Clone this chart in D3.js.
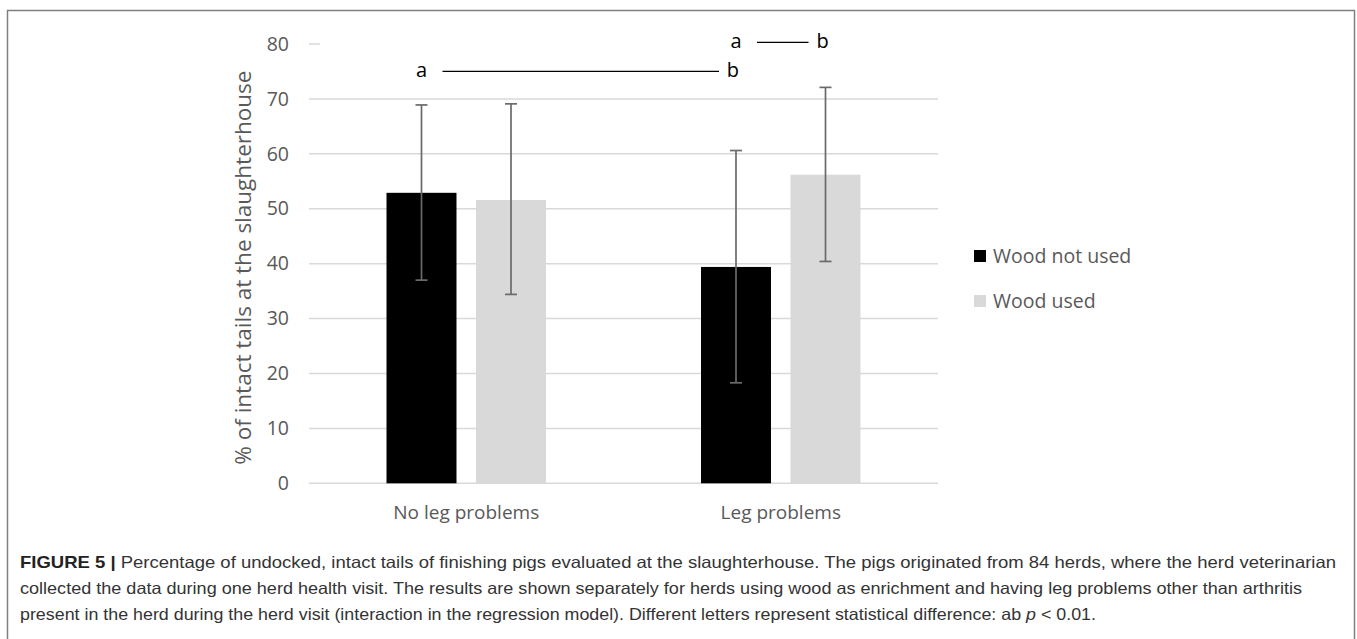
<!DOCTYPE html>
<html>
<head>
<meta charset="utf-8">
<script src="https://cdn.jsdelivr.net/npm/d3@7"></script>
<style>
  html, body { margin: 0; padding: 0; background: #fff; }
  svg { display: block; }
</style>
</head>
<body>
<svg id="chart" width="1357" height="639"></svg>
<script>
// ---- data ----
const categories = ["No leg problems", "Leg problems"];
const seriesNames = ["Wood not used", "Wood used"];
const woodNotUsed = [52.9, 39.4];
const woodUsed = [51.6, 56.2];
const woodNotUsedLow = [37.0, 18.3];
const woodNotUsedHigh = [68.9, 60.6];
const woodUsedLow = [34.4, 40.4];
const woodUsedHigh = [69.1, 72.1];
const yTicks = [0, 10, 20, 30, 40, 50, 60, 70, 80];
const yTitle = "% of intact tails at the slaughterhouse";
// significance annotations
const sigFrom = [["No leg problems", "Wood not used"], ["Leg problems", "Wood not used"]];
const sigTo = [["Leg problems", "Wood not used"], ["Leg problems", "Wood used"]];
const sigLevel = [75, 80.3];
const sigLetters = [["a", "b"], ["a", "b"]];
const captionBold = "FIGURE 5 |";
const captionLines = [
  " Percentage of undocked, intact tails of finishing pigs evaluated at the slaughterhouse. The pigs originated from 84 herds, where the herd veterinarian",
  "collected the data during one herd health visit. The results are shown separately for herds using wood as enrichment and having leg problems other than arthritis",
  "present in the herd during the herd visit (interaction in the regression model). Different letters represent statistical difference: ab "
];

const colors = { "Wood not used": "#000000", "Wood used": "#d9d9d9" };
const svg = d3.select("#chart");

// frame
svg.append("path")
  .attr("d", "M7.5,650 L7.5,10.5 L1354.5,10.5 L1354.5,650")
  .attr("fill", "none").attr("stroke", "#7f7f7f").attr("stroke-width", 1.5);

const y = d3.scaleLinear().domain([0, 80]).range([483.3, 44]);
const x0 = d3.scaleBand().domain(categories).range([309, 938]).paddingInner(0).paddingOuter(0);
const x1 = d3.scaleBand().domain(seriesNames).range([77.5, x0.bandwidth() - 77.5]).paddingInner(0.218).paddingOuter(0);

const labelFont = "'Open Sans', 'Noto Sans', sans-serif";
const labelColor = "#595959";

// gridlines
svg.append("g").selectAll("line").data(yTicks).join("line")
  .attr("x1", 309)
  .attr("x2", d => d === 80 ? 320 : 938)
  .attr("y1", d => y(d)).attr("y2", d => y(d))
  .attr("stroke", "#d9d9d9").attr("stroke-width", 1.5);

// y axis labels
const yAxis = d3.axisLeft(y).tickValues(yTicks).tickSize(0).tickPadding(0);
const gy = svg.append("g").attr("transform", "translate(289,0)").call(yAxis);
gy.select(".domain").remove();
gy.selectAll("text").attr("font-family", labelFont).attr("font-size", 19.5).attr("fill", labelColor);

// y title
svg.append("text")
  .attr("transform", `translate(251,${(y(0) + y(80)) / 2 + 4}) rotate(-90)`)
  .attr("text-anchor", "middle")
  .attr("font-family", labelFont).attr("font-size", 22.5).attr("fill", labelColor)
  .text(yTitle);

// bars
const rows = [];
categories.forEach((c, i) => {
  rows.push({ cat: c, s: "Wood not used", v: woodNotUsed[i], lo: woodNotUsedLow[i], hi: woodNotUsedHigh[i] });
  rows.push({ cat: c, s: "Wood used", v: woodUsed[i], lo: woodUsedLow[i], hi: woodUsedHigh[i] });
});
const bx = d => x0(d.cat) + x1(d.s);
svg.append("g").selectAll("rect").data(rows).join("rect")
  .attr("x", bx).attr("width", x1.bandwidth())
  .attr("y", d => y(d.v)).attr("height", d => y(0) - y(d.v))
  .attr("fill", d => colors[d.s]);

// error bars
const eg = svg.append("g").attr("stroke", "#6a6a6a").attr("stroke-width", 1.7);
eg.selectAll("line.v").data(rows).join("line").attr("class", "v")
  .attr("x1", d => bx(d) + x1.bandwidth() / 2).attr("x2", d => bx(d) + x1.bandwidth() / 2)
  .attr("y1", d => y(d.lo)).attr("y2", d => y(d.hi));
["lo", "hi"].forEach(k => {
  eg.selectAll("line." + k).data(rows).join("line").attr("class", k)
    .attr("x1", d => bx(d) + x1.bandwidth() / 2 - 6).attr("x2", d => bx(d) + x1.bandwidth() / 2 + 6)
    .attr("y1", d => y(d[k])).attr("y2", d => y(d[k]));
});

// x labels
svg.append("g").selectAll("text").data(categories).join("text")
  .attr("x", d => x0(d) + x0.bandwidth() / 2).attr("y", 519)
  .attr("text-anchor", "middle")
  .attr("font-family", labelFont).attr("font-size", 19).attr("fill", labelColor)
  .text(d => d);

// significance annotations
const cx = (cat, s) => x0(cat) + x1(s) + x1.bandwidth() / 2;
sigLevel.forEach((lvl, i) => {
  const xa = cx(sigFrom[i][0], sigFrom[i][1]);
  const xb = cx(sigTo[i][0], sigTo[i][1]);
  const yy = y(lvl);
  svg.append("text").attr("x", xa).attr("y", yy + 6).attr("text-anchor", "middle")
    .attr("font-family", labelFont).attr("font-size", 20).attr("fill", "#000").text(sigLetters[i][0]);
  svg.append("text").attr("x", xb - 3).attr("y", yy + 6).attr("text-anchor", "middle")
    .attr("font-family", labelFont).attr("font-size", 20).attr("fill", "#000").text(sigLetters[i][1]);
  svg.append("line").attr("x1", xa + 21).attr("x2", xb - 17).attr("y1", yy).attr("y2", yy)
    .attr("stroke", "#000").attr("stroke-width", 1.2);
});

// legend
const lg = svg.append("g").attr("transform", "translate(974,250)");
seriesNames.forEach((s, i) => {
  lg.append("rect").attr("x", 0).attr("y", i * 45).attr("width", 12).attr("height", 12).attr("fill", colors[s]);
  lg.append("text").attr("x", 19).attr("y", i * 45 + 13)
    .attr("font-family", labelFont).attr("font-size", 19.5).attr("fill", labelColor).text(s);
});

// caption
const capFont = "'Liberation Sans', Arial, sans-serif";
const capY = [568, 594, 620];
const capW = [1316, 1282, 1076];
captionLines.forEach((ln, i) => {
  const t = svg.append("text").attr("x", 20).attr("y", capY[i])
    .attr("font-family", capFont).attr("font-size", 16.5).attr("fill", "#333")
    .attr("textLength", capW[i]).attr("lengthAdjust", "spacingAndGlyphs");
  if (i === 0) {
    t.append("tspan").attr("font-weight", "bold").attr("fill", "#222").text(captionBold);
    t.append("tspan").text(ln);
  } else if (i === 2) {
    t.append("tspan").text(ln);
    t.append("tspan").attr("font-style", "italic").text("p");
    t.append("tspan").text(" < 0.01.");
  } else {
    t.text(ln);
  }
});
</script>
</body>
</html>
